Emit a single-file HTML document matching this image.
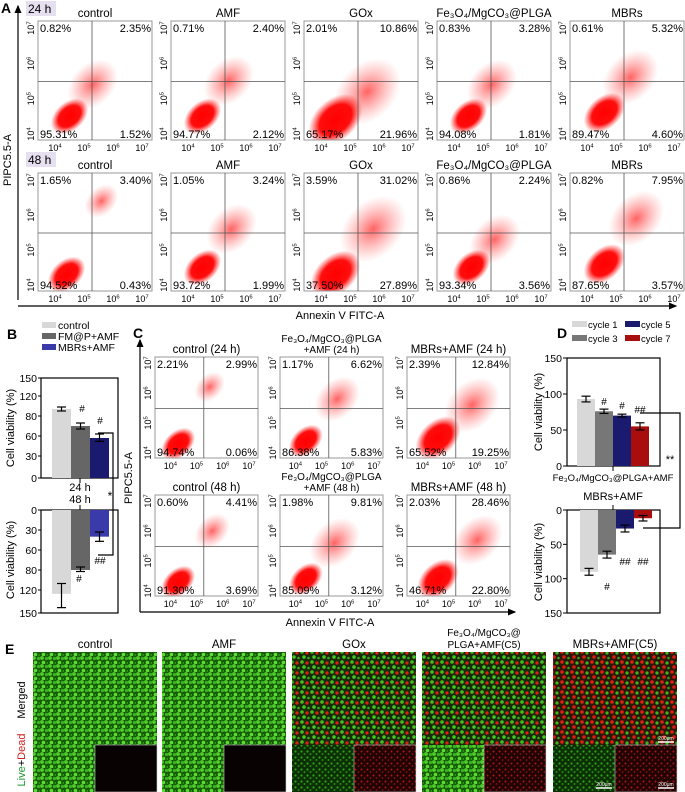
<!DOCTYPE html>
<html><head><meta charset="utf-8">
<style>
html,body{margin:0;padding:0;background:#fff;}
svg{display:block;font-family:"Liberation Sans",Arial,sans-serif;}
</style></head>
<body>
<svg id="fig" width="685" height="792" viewBox="0 0 685 792" xmlns="http://www.w3.org/2000/svg">
<defs>
  <radialGradient id="cloud" cx="50%" cy="50%" r="50%">
    <stop offset="0%" stop-color="#ff0000" stop-opacity="1"/>
    <stop offset="60%" stop-color="#ff0000" stop-opacity="0.95"/>
    <stop offset="100%" stop-color="#ff2020" stop-opacity="0"/>
  </radialGradient>
  <radialGradient id="haze" cx="50%" cy="50%" r="50%">
    <stop offset="0%" stop-color="#ff2020" stop-opacity="0.7"/>
    <stop offset="100%" stop-color="#ff6060" stop-opacity="0"/>
  </radialGradient>
  <pattern id="greenTile" width="8" height="8" patternUnits="userSpaceOnUse">
    <rect width="8" height="8" fill="#1a5a0c"/>
    <circle cx="2" cy="2" r="1.9" fill="#4fd02a"/><circle cx="6.5" cy="2.5" r="1.6" fill="#3cb81e"/>
    <circle cx="3.5" cy="6.5" r="1.8" fill="#5ae030"/><circle cx="7.5" cy="7" r="1.1" fill="#2a8f14"/>
  </pattern>
  <pattern id="mixTile" width="10" height="10" patternUnits="userSpaceOnUse">
    <rect width="10" height="10" fill="#1a2a08"/>
    <circle cx="2" cy="2" r="1.8" fill="#3fc020"/><circle cx="7" cy="3" r="1.6" fill="#e02010"/>
    <circle cx="4" cy="7" r="1.8" fill="#40c822"/><circle cx="8.5" cy="8" r="1.3" fill="#38a818"/>
  </pattern>
  <pattern id="redMixTile" width="10" height="10" patternUnits="userSpaceOnUse">
    <rect width="10" height="10" fill="#2a1808"/>
    <circle cx="2" cy="2" r="1.8" fill="#e02010"/><circle cx="7" cy="3" r="1.6" fill="#3cb81e"/>
    <circle cx="4" cy="7" r="1.8" fill="#d81a10"/><circle cx="8.5" cy="8" r="1.3" fill="#34a018"/>
  </pattern>
  <pattern id="dimGreen" width="6" height="6" patternUnits="userSpaceOnUse">
    <rect width="6" height="6" fill="#0c3006"/>
    <circle cx="1.5" cy="1.5" r="1.1" fill="#32a018"/><circle cx="4.5" cy="4" r="1" fill="#2a8a14"/>
  </pattern>
  <pattern id="dimRed" width="6" height="6" patternUnits="userSpaceOnUse">
    <rect width="6" height="6" fill="#200404"/>
    <circle cx="1.5" cy="1.5" r="1" fill="#b01818"/><circle cx="4.5" cy="4" r="0.9" fill="#901010"/>
  </pattern>
  <marker id="arrowH" markerWidth="8" markerHeight="8" refX="6" refY="4" orient="auto"><path d="M0,1 L7,4 L0,7 Z" fill="#000"/></marker>
</defs>
<g id="root"></g>
</svg>
<script>
// ---------- DATA ----------
const aTitles = ["control","AMF","GOx","Fe₃O₄/MgCO₃@PLGA","MBRs"];
const a24Pcts = [["0.82%","2.35%","95.31%","1.52%"],["0.71%","2.40%","94.77%","2.12%"],["2.01%","10.86%","65.17%","21.96%"],["0.83%","3.28%","94.08%","1.81%"],["0.61%","5.32%","89.47%","4.60%"]];
const a48Pcts = [["1.65%","3.40%","94.52%","0.43%"],["1.05%","3.24%","93.72%","1.99%"],["3.59%","31.02%","37.50%","27.89%"],["0.86%","2.24%","93.34%","3.56%"],["0.82%","7.95%","87.65%","3.57%"]];
// main cloud [logX, logY, radius(log units)], haze [logX, logY, radius]
const a24Main = [[4.5,4.5,0.45],[4.5,4.5,0.45],[4.5,4.4,0.65],[4.5,4.5,0.45],[4.6,4.6,0.5]];
const a24Haze = [[5.3,5.4,0.9],[5.4,5.5,0.9],[5.6,5.2,1.2],[5.3,5.4,0.9],[5.5,5.6,1.0]];
const a48Main = [[4.4,4.3,0.45],[4.5,4.5,0.45],[4.5,4.3,0.6],[4.6,4.5,0.45],[4.6,4.6,0.5]];
const a48Haze = [[5.6,6.4,0.6],[5.5,5.6,0.9],[5.8,5.6,1.2],[5.4,5.3,0.9],[5.7,5.9,1.0]];
const cTitles = [["control (24 h)"],["Fe₃O₄/MgCO₃@PLGA","+AMF (24 h)"],["MBRs+AMF (24 h)"],["control (48 h)"],["Fe₃O₄/MgCO₃@PLGA","+AMF (48 h)"],["MBRs+AMF (48 h)"]];
const cPcts = [["2.21%","2.99%","94.74%","0.06%"],["1.17%","6.62%","86.38%","5.83%"],["2.39%","12.84%","65.52%","19.25%"],["0.60%","4.41%","91.30%","3.69%"],["1.98%","9.81%","85.09%","3.12%"],["2.03%","28.46%","46.71%","22.80%"]];
const cMain = [[4.3,4.3,0.45],[4.4,4.4,0.45],[4.6,4.5,0.6],[4.3,4.3,0.45],[4.4,4.4,0.45],[4.6,4.4,0.55]];
const cHaze = [[5.5,6.2,0.6],[5.6,5.8,0.9],[5.9,5.6,1.1],[5.6,6.0,0.7],[5.5,5.6,1.0],[6.1,5.7,1.0]];
const tickExps = ["4","5","6","7"];

const bCats = ["control","FM@P+AMF","MBRs+AMF"];
const bColors = ["#d8d8d8","#666666","#1a1a6e"];
const bColors48 = ["#d8d8d8","#666666","#3a3aa8"];
const b24Vals = [94, 70, 57];
const b24Err = [4, 3, 5];
const b48Vals = [125, 80, 40];
const b48Err = [18, 3, 7];
const bTickLabels = ["0","30","60","80","120","150"];
const bTickVals = [0,30,60,80,120,150];

const dCats = ["cycle 1","cycle 3","cycle 5","cycle 7"];
const dColors = ["#d8d8d8","#777777","#1a1a6e","#a80e0e"];
const dTopVals = [93, 76, 70, 55];
const dTopErr = [4, 3, 2, 5];
const dBotVals = [90, 65, 27, 12];
const dBotErr = [5, 5, 5, 4];
const dTicks = [0, 50, 100, 150];

const eTitles = [["control"],["AMF"],["GOx"],["Fe₃O₄/MgCO₃@","PLGA+AMF(C5)"],["MBRs+AMF(C5)"]];
const eMerged = ["greenTile","greenTile","mixTile","mixTile","redMixTile"];
const eLeft = ["greenTile","greenTile","dimGreen","greenTile","dimGreen"];
const eRight = ["black","black","dimRed","dimRed","dimRed"];

// ---------- helpers ----------
const NS = "http://www.w3.org/2000/svg";
const root = document.getElementById("root");
function mk(tag, attrs, parent, text){
  const e = document.createElementNS(NS, tag);
  for (const k in attrs) e.setAttribute(k, attrs[k]);
  if (text !== undefined) e.textContent = text;
  (parent || root).appendChild(e);
  return e;
}
function txt(x,y,s,size,opts,parent){
  opts = opts || {};
  const t = mk("text",{x:x,y:y,"font-size":size,"text-anchor":opts.anchor||"start",fill:opts.fill||"#000","font-weight":opts.weight||"normal"},parent);
  if (opts.rot) t.setAttribute("transform","rotate("+opts.rot+" "+x+" "+y+")");
  t.textContent = s;
  return t;
}
function pow(parent,x,y,exp,size,rot){
  const t = mk("text",{x:x,y:y,"font-size":size,"text-anchor":"middle"},parent);
  if (rot) t.setAttribute("transform","rotate("+rot+" "+x+" "+y+")");
  const a = mk("tspan",{},t); a.textContent="10";
  const b = mk("tspan",{"font-size":size*0.65,dy:-size*0.4},t); b.textContent=exp;
  return t;
}

// flow cytometry plot
function flow(x,y,w,h,titleLines,pcts,main,haze,name){
  const g = mk("g",{});
  
  
  const sx = l => x + w*(17 + (l-4)*29)/114;
  const sy = l => y + h*(112 - (l-4)*35)/118;
  const cid = "clip"+name;
  const cp = mk("clipPath",{id:cid},g); mk("rect",{x:x,y:y,width:w,height:h},cp);
  const cg = mk("g",{"clip-path":"url(#"+cid+")"},g);
  const hr = haze[2]*29*w/114;
  mk("ellipse",{cx:sx(haze[0]),cy:sy(haze[1]),rx:hr*1.1,ry:hr*0.8,fill:"url(#haze)",transform:"rotate(-45 "+sx(haze[0])+" "+sy(haze[1])+")"},cg);
  const mr = main[2]*29*w/114;
  const m = mk("ellipse",{cx:sx(main[0]),cy:sy(main[1]),rx:mr*1.65,ry:mr*1.1,fill:"url(#cloud)",transform:"rotate(-42 "+sx(main[0])+" "+sy(main[1])+")"},cg);
  
  
  mk("rect",{x:x,y:y,width:w,height:h,fill:"none",stroke:"#999","stroke-width":1},g);
  mk("line",{x1:x+w*54/114,y1:y,x2:x+w*54/114,y2:y+h,stroke:"#555","stroke-width":0.8},g);
  mk("line",{x1:x,y1:y+h*60/118,x2:x+w,y2:y+h*60/118,stroke:"#555","stroke-width":0.8},g);
  const fs = 11;
  txt(x+2,y+11,pcts[0],fs,{},g);
  txt(x+w-1,y+11,pcts[1],fs,{anchor:"end"},g);
  txt(x+2,y+h-2,pcts[2],fs,{},g);
  txt(x+w-1,y+h-2,pcts[3],fs,{anchor:"end"},g);
  tickExps.forEach((e,i)=>{
    const l = 4+i;
    pow(g,sx(l),y+h+11,e,9);
    pow(g,x-4,sy(l),e,9,-90);
  });
  titleLines.forEach((s,i)=>{
    txt(x+w/2,y-4-(titleLines.length-1-i)*11,s,titleLines.length>1?10:11.5,{anchor:"middle"},g);
  });
}

// ---------- Panel A ----------
txt(1,13,"A",14,{weight:"bold"});
mk("line",{x1:18,y1:300,x2:18,y2:6,stroke:"#000","stroke-width":1.2,"marker-end":"url(#arrowH)"});
mk("line",{x1:18,y1:306,x2:676,y2:306,stroke:"#000","stroke-width":1.2,"marker-end":"url(#arrowH)"});
txt(11,160,"PIPC5.5-A",11,{anchor:"middle",rot:-90});
txt(340,319,"Annexin V FITC-A",11,{anchor:"middle"});
mk("rect",{x:26,y:1,width:30,height:15,fill:"#e6dff0"});
txt(28,13,"24 h",12);
mk("rect",{x:26,y:152,width:30,height:15,fill:"#e6dff0"});
txt(28,164,"48 h",12);
for (let i=0;i<5;i++){
  const x = 38 + i*133;
  flow(x,21,114,119,[aTitles[i]],a24Pcts[i],a24Main[i],a24Haze[i],"flow-24h-"+i);
  flow(x,173,114,118,[aTitles[i]],a48Pcts[i],a48Main[i],a48Haze[i],"flow-48h-"+i);
}

// ---------- Panel B ----------
txt(7,339,"B",14,{weight:"bold"});
bCats.forEach((c,i)=>{
  mk("rect",{x:42,y:322+i*11,width:14,height:6,fill:bColors48[i]});
  txt(58,329+i*11,c,10.5);
});
const bTopY = [478,456,436,416,396,378];
const bBotY = [510,530,550,570,590,613];
function bMap(v, ys){
  for (let i=0;i<bTickVals.length-1;i++){
    if (v<=bTickVals[i+1]) return ys[i] + (v-bTickVals[i])/(bTickVals[i+1]-bTickVals[i])*(ys[i+1]-ys[i]);
  }
  return ys[ys.length-1];
}
mk("rect",{x:41,y:378,width:77,height:100,fill:"none",stroke:"#000","stroke-width":1.2});
mk("rect",{x:41,y:510,width:77,height:103,fill:"none",stroke:"#000","stroke-width":1.2});
bTickLabels.forEach((s,i)=>{
  mk("line",{x1:38,y1:bTopY[i],x2:41,y2:bTopY[i],stroke:"#000"});
  txt(37,bTopY[i]+4,s,10.5,{anchor:"end"});
  mk("line",{x1:38,y1:bBotY[i],x2:41,y2:bBotY[i],stroke:"#000"});
  txt(37,bBotY[i]+4,s,10.5,{anchor:"end"});
});
txt(14,428,"Cell viability (%)",11,{anchor:"middle",rot:-90});
txt(14,560,"Cell viability (%)",11,{anchor:"middle",rot:-90});
txt(80,491,"24 h",11,{anchor:"middle"});
txt(80,503,"48 h",11,{anchor:"middle"});
mk("line",{x1:80,y1:478,x2:80,y2:483,stroke:"#000"});
mk("line",{x1:80,y1:505,x2:80,y2:510,stroke:"#000"});
b24Vals.forEach((v,i)=>{
  const x0 = 52 + i*19;
  const yt = bMap(v,bTopY);
  const r = mk("rect",{x:x0,y:yt,width:19,height:478-yt,fill:bColors[i]});
  
  
  const e1 = bMap(v+b24Err[i],bTopY), e2 = bMap(v-b24Err[i],bTopY);
  mk("line",{x1:x0+9.5,y1:e1,x2:x0+9.5,y2:e2,stroke:"#000","stroke-width":1.2});
  mk("line",{x1:x0+5,y1:e1,x2:x0+14,y2:e1,stroke:"#000","stroke-width":1.2});
  mk("line",{x1:x0+5,y1:e2,x2:x0+14,y2:e2,stroke:"#000","stroke-width":1.2});
});
b48Vals.forEach((v,i)=>{
  const x0 = 52 + i*19;
  const yb = bMap(v,bBotY);
  const r = mk("rect",{x:x0,y:510,width:19,height:yb-510,fill:bColors48[i]});
  
  
  const e1 = bMap(v-b48Err[i],bBotY), e2 = bMap(v+b48Err[i],bBotY);
  mk("line",{x1:x0+9.5,y1:e1,x2:x0+9.5,y2:e2,stroke:"#000","stroke-width":1.2});
  mk("line",{x1:x0+5,y1:e1,x2:x0+14,y2:e1,stroke:"#000","stroke-width":1.2});
  mk("line",{x1:x0+5,y1:e2,x2:x0+14,y2:e2,stroke:"#000","stroke-width":1.2});
});
txt(82,412,"#",10,{anchor:"middle"});
txt(100,424,"#",10,{anchor:"middle"});
txt(79,582,"#",10,{anchor:"middle"});
txt(100,564,"##",10,{anchor:"middle"});
mk("polyline",{points:"98,433 113,433 113,555 98,555",fill:"none",stroke:"#000","stroke-width":1.2});
txt(110,500,"*",12,{anchor:"middle"});

// ---------- Panel C ----------
txt(133,338,"C",14,{weight:"bold"});
mk("line",{x1:140,y1:612,x2:140,y2:340,stroke:"#000","stroke-width":1.2,"marker-end":"url(#arrowH)"});
mk("line",{x1:140,y1:612,x2:515,y2:612,stroke:"#000","stroke-width":1.2,"marker-end":"url(#arrowH)"});
txt(132,478,"PIPC5.5-A",11,{anchor:"middle",rot:-90});
txt(330,626,"Annexin V FITC-A",11,{anchor:"middle"});
const cx0 = [155,280,407];
for (let i=0;i<6;i++){
  const col = i%3, row = Math.floor(i/3);
  flow(cx0[col], row?495:357, 103, 101, cTitles[i], cPcts[i], cMain[i], cHaze[i], "flow-c-"+i);
}

// ---------- Panel D ----------
txt(557,338,"D",14,{weight:"bold"});
dCats.forEach((c,i)=>{
  const col = (i===0||i===1)?0:1;
  const row = (i===0||i===2)?0:1;
  mk("rect",{x:572+col*53,y:321+row*14,width:15,height:6,fill:dColors[i]});
  txt(588+col*53,328+row*14,c,9.5);
});
const dTop0 = 466, dTopS = (466-358)/150;
const dBot0 = 510, dBotS = (613-510)/150;
mk("rect",{x:567,y:358,width:93,height:108,fill:"none",stroke:"#000","stroke-width":1.2});
mk("rect",{x:567,y:510,width:93,height:103,fill:"none",stroke:"#000","stroke-width":1.2});
dTicks.forEach(v=>{
  const y1 = dTop0 - v*dTopS, y2 = dBot0 + v*dBotS;
  mk("line",{x1:563,y1:y1,x2:567,y2:y1,stroke:"#000"});
  txt(562,y1+4,String(v),10.5,{anchor:"end"});
  mk("line",{x1:563,y1:y2,x2:567,y2:y2,stroke:"#000"});
  txt(562,y2+4,String(v),10.5,{anchor:"end"});
});
txt(542,412,"Cell viability (%)",11,{anchor:"middle",rot:-90});
txt(542,562,"Cell viability (%)",11,{anchor:"middle",rot:-90});
txt(613,481,"Fe₃O₄/MgCO₃@PLGA+AMF",9.5,{anchor:"middle"});
txt(613,500,"MBRs+AMF",11,{anchor:"middle"});
mk("line",{x1:613,y1:466,x2:613,y2:471,stroke:"#000"});
mk("line",{x1:613,y1:505,x2:613,y2:510,stroke:"#000"});
dTopVals.forEach((v,i)=>{
  const x0 = 577 + i*18;
  const yt = dTop0 - v*dTopS;
  const r = mk("rect",{x:x0,y:yt,width:18,height:dTop0-yt,fill:dColors[i]});
  
  
  const e1 = dTop0-(v+dTopErr[i])*dTopS, e2 = dTop0-(v-dTopErr[i])*dTopS;
  mk("line",{x1:x0+9,y1:e1,x2:x0+9,y2:e2,stroke:"#000","stroke-width":1.2});
  mk("line",{x1:x0+4.5,y1:e1,x2:x0+13.5,y2:e1,stroke:"#000","stroke-width":1.2});
  mk("line",{x1:x0+4.5,y1:e2,x2:x0+13.5,y2:e2,stroke:"#000","stroke-width":1.2});
});
dBotVals.forEach((v,i)=>{
  const x0 = 580 + i*18;
  const yb = dBot0 + v*dBotS;
  const r = mk("rect",{x:x0,y:dBot0,width:18,height:yb-dBot0,fill:dColors[i]});
  
  
  const e1 = dBot0+(v-dBotErr[i])*dBotS, e2 = dBot0+(v+dBotErr[i])*dBotS;
  mk("line",{x1:x0+9,y1:e1,x2:x0+9,y2:e2,stroke:"#000","stroke-width":1.2});
  mk("line",{x1:x0+4.5,y1:e1,x2:x0+13.5,y2:e1,stroke:"#000","stroke-width":1.2});
  mk("line",{x1:x0+4.5,y1:e2,x2:x0+13.5,y2:e2,stroke:"#000","stroke-width":1.2});
});
txt(604,405,"#",10,{anchor:"middle"});
txt(622,409,"#",10,{anchor:"middle"});
txt(640,413,"##",10,{anchor:"middle"});
txt(607,590,"#",10,{anchor:"middle"});
txt(625,565,"##",10,{anchor:"middle"});
txt(643,565,"##",10,{anchor:"middle"});
mk("polyline",{points:"640,413 680,413 680,528 643,528",fill:"none",stroke:"#000","stroke-width":1.2});
txt(670,463,"**",11,{anchor:"middle"});

// ---------- Panel E ----------
txt(5,654,"E",14,{weight:"bold"});
txt(25,700,"Merged",11,{anchor:"middle",rot:-90});
const ld = mk("text",{x:25,y:760,"font-size":11,"text-anchor":"middle",transform:"rotate(-90 25 760)"});
const t1 = mk("tspan",{fill:"#1a9a30"},ld); t1.textContent="Live";
const t2 = mk("tspan",{fill:"#000"},ld); t2.textContent="+";
const t3 = mk("tspan",{fill:"#d02020"},ld); t3.textContent="Dead";
const ex = [33,162,292,422,553];
for (let i=0;i<5;i++){
  const x = ex[i], w = 124;
  const g = mk("g",{});
  
  
  mk("rect",{x:x,y:652,width:w,height:140,fill:"url(#"+eMerged[i]+")"},g);
  mk("rect",{x:x,y:745,width:w/2,height:47,fill:"url(#"+eLeft[i]+")"},g);
  mk("rect",{x:x+w/2,y:745,width:w/2,height:47,fill:eRight[i]==="black"?"#080202":"url(#"+eRight[i]+")",stroke:"#ccc","stroke-width":0.6},g);
  eTitles[i].forEach((s,j)=>{
    txt(x+w/2,648-(eTitles[i].length-1-j)*12,s,eTitles[i].length>1?10:11.5,{anchor:"middle"},g);
  });
}
[[668,742],[606,788],[668,788]].forEach(p=>{
  mk("line",{x1:p[0]-10,y1:p[1],x2:p[0]+6,y2:p[1],stroke:"#fff","stroke-width":1.5});
  txt(p[0]-2,p[1]-2,"200μm",5,{anchor:"middle",fill:"#fff"});
});
</script>
</body></html>
